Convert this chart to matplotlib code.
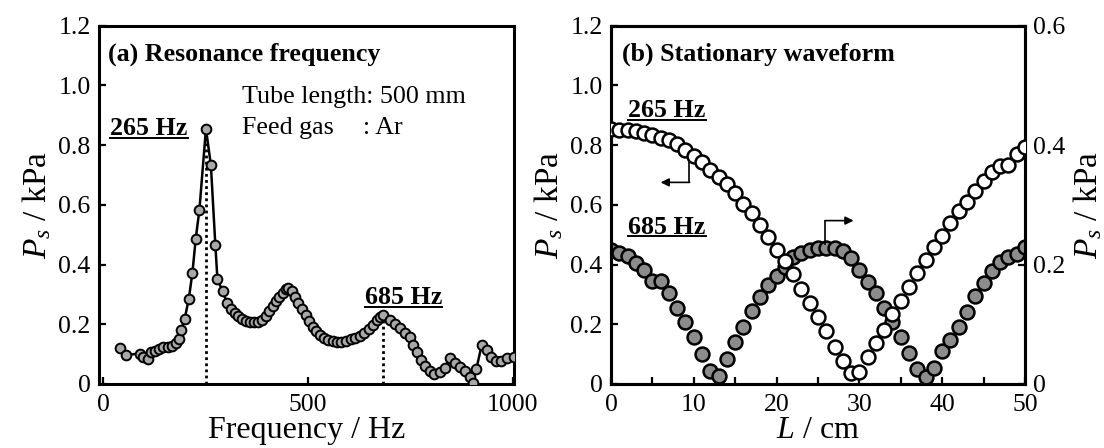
import matplotlib
matplotlib.use("Agg")
import matplotlib.pyplot as plt
import numpy as np

plt.rcParams['font.family'] = ['Liberation Serif', 'DejaVu Serif']
plt.rcParams['mathtext.fontset'] = 'custom'
plt.rcParams['mathtext.rm'] = 'Liberation Serif'
plt.rcParams['mathtext.it'] = 'Liberation Serif:italic'
plt.rcParams['mathtext.bf'] = 'Liberation Serif:bold'

# ---------------- Panel (a): resonance frequency ----------------
freq_hz = [40, 56, 89, 97, 109, 116, 127, 137, 147, 158, 167, 178, 185, 190, 199,
           209, 218, 226, 235, 251, 263, 274, 279, 292, 302, 313, 321, 330, 338,
           348, 358, 368, 378, 388, 398, 406, 414, 422, 430, 438, 446, 452, 460,
           468, 476, 485, 494, 503, 512, 520, 530, 540, 550, 560, 570, 580, 592,
           604, 616, 628, 638, 648, 658, 668, 677, 684, 700, 712, 724, 737, 749,
           757, 765, 775, 785, 797, 808, 822, 834, 846, 859, 871, 883, 895, 902,
           911, 924, 936, 948, 960, 972, 985, 1002]
ps_freq = [0.119, 0.097, 0.102, 0.089, 0.082, 0.106, 0.111, 0.118, 0.123, 0.125,
           0.128, 0.136, 0.150, 0.180, 0.218, 0.284, 0.373, 0.486, 0.583, 0.855,
           0.733, 0.464, 0.351, 0.310, 0.272, 0.252, 0.239, 0.227, 0.219, 0.210,
           0.207, 0.206, 0.207, 0.214, 0.229, 0.245, 0.262, 0.278, 0.292, 0.306,
           0.318, 0.322, 0.310, 0.292, 0.272, 0.252, 0.230, 0.210, 0.192, 0.178,
           0.165, 0.155, 0.148, 0.143, 0.140, 0.142, 0.145, 0.149, 0.153, 0.160,
           0.170, 0.183, 0.198, 0.213, 0.225, 0.230, 0.214, 0.200, 0.186, 0.172,
           0.158, 0.130, 0.108, 0.080, 0.060, 0.045, 0.035, 0.040, 0.055, 0.088,
           0.070, 0.058, 0.043, 0.024, 0.002, 0.050, 0.130, 0.113, 0.091, 0.078,
           0.077, 0.086, 0.091]
peak_freqs = [251, 684]
peak_vals = [0.855, 0.230]

# ---------------- Panel (b): stationary waveform ----------------
pos_cm = list(range(0, 51))
ps_265 = [0.854, 0.852, 0.850, 0.846, 0.841, 0.835, 0.824, 0.816, 0.802, 0.785,
          0.763, 0.743, 0.718, 0.693, 0.668, 0.638, 0.604, 0.571, 0.531, 0.493,
          0.448, 0.411, 0.367, 0.319, 0.272, 0.225, 0.177, 0.124, 0.076, 0.037,
          0.040, 0.091, 0.136, 0.182, 0.235, 0.279, 0.326, 0.371, 0.415, 0.458,
          0.497, 0.538, 0.578, 0.608, 0.645, 0.681, 0.709, 0.731, 0.733, 0.770,
          0.793]
ps_685 = [0.224, 0.220, 0.214, 0.203, 0.190, 0.172, 0.172, 0.152, 0.127, 0.103,
          0.078, 0.051, 0.022, 0.014, 0.042, 0.070, 0.096, 0.122, 0.145, 0.165,
          0.180, 0.196, 0.212, 0.220, 0.225, 0.228, 0.228, 0.227, 0.222, 0.211,
          0.190, 0.170, 0.152, 0.128, 0.104, 0.078, 0.052, 0.025, 0.012, 0.026,
          0.056, 0.073, 0.095, 0.120, 0.148, 0.169, 0.189, 0.204, 0.213, 0.218,
          0.230]

left_yticks = [0, 0.2, 0.4, 0.6, 0.8, 1.0, 1.2]
left_yticklabels = ['0', '0.2', '0.4', '0.6', '0.8', '1.0', '1.2']
right_yticks = [0, 0.2, 0.4, 0.6]
right_yticklabels = ['0', '0.2', '0.4', '0.6']
freq_ticks = [0, 500, 1000]
pos_ticks = [0, 10, 20, 30, 40, 50]

TICK_FS = 18.5
LABEL_FS = 23
TEXT_FS = 18.7

fig = plt.figure(figsize=(11.04, 4.48), dpi=100)
axa = fig.add_axes([0.0897, 0.1429, 0.3759, 0.800])
axb = fig.add_axes([0.5534, 0.1429, 0.3750, 0.800])
axb2 = axb.twinx()

def style(ax):
    for s in ax.spines.values():
        s.set_linewidth(2.2)
    ax.tick_params(direction='in', length=5, width=1.6, labelsize=TICK_FS, pad=6)

# ---- panel a ----
style(axa)
axa.plot(freq_hz, ps_freq, '-o', color='black', lw=1.8, ms=7,
         mfc='#a8a8a8', mec='black', mew=1.4, zorder=3)
for f, v in zip(peak_freqs, peak_vals):
    axa.plot([f, f], [0, v], ls=(0, (1, 1.2)), color='black', lw=2.0, zorder=2)
axa.set_xlim(-10, 1003)
axa.set_ylim(0, 1.2)
axa.set_xticks(freq_ticks)
axa.set_yticks(left_yticks)
axa.set_yticklabels(left_yticklabels)
axa.tick_params(axis='x', pad=7)
axa.set_xlabel('Frequency / Hz', fontsize=LABEL_FS, labelpad=0)
axa.set_ylabel(r'$P_s$ / kPa', fontsize=LABEL_FS + 1, labelpad=4)
axa.text(0.022, 0.921, '(a) Resonance frequency', transform=axa.transAxes,
         fontsize=TEXT_FS, fontweight='bold', va='center', ha='left')
axa.text(0.345, 0.80, 'Tube length: 500 mm', transform=axa.transAxes,
         fontsize=TEXT_FS, va='center', ha='left')
axa.text(0.345, 0.713, 'Feed gas', transform=axa.transAxes,
         fontsize=TEXT_FS, va='center', ha='left')
axa.text(0.635, 0.713, ': Ar', transform=axa.transAxes,
         fontsize=TEXT_FS, va='center', ha='left')
t265a = axa.text(0.027, 0.712, '265 Hz', transform=axa.transAxes,
                 fontsize=TEXT_FS, fontweight='bold', va='center', ha='left')
t685a = axa.text(0.64, 0.242, '685 Hz', transform=axa.transAxes,
                 fontsize=TEXT_FS, fontweight='bold', va='center', ha='left')

# ---- panel b ----
style(axb)
style(axb2)
axb2.plot(pos_cm, ps_685, 'o', ls='none', ms=10, mfc='#8c8c8c', mec='black',
          mew=1.8, zorder=3)
axb.plot(pos_cm, ps_265, 'o', ls='none', ms=10, mfc='white', mec='black',
         mew=1.8, zorder=4)
axb.set_zorder(axb2.get_zorder() + 1)
axb.patch.set_visible(False)
axb.set_xlim(0, 50)
axb.set_ylim(0, 1.2)
axb2.set_ylim(0, 0.6)
axb.set_xticks(pos_ticks)
axb.set_xticks(list(range(5, 50, 10)), minor=True)
axb.tick_params(axis='x', which='minor', direction='in', length=5, width=1.6)
axb.tick_params(axis='x', pad=7)
axb.set_yticks(left_yticks)
axb.set_yticklabels(left_yticklabels)
axb2.set_yticks(right_yticks)
axb2.set_yticklabels(right_yticklabels)
axb.set_xlabel(r'$L$ / cm', fontsize=LABEL_FS, labelpad=0)
axb.set_ylabel(r'$P_s$ / kPa', fontsize=LABEL_FS + 1, labelpad=4)
axb2.set_ylabel(r'$P_s$ / kPa', fontsize=LABEL_FS + 1, labelpad=4)
axb.text(0.026, 0.921, '(b) Stationary waveform', transform=axb.transAxes,
         fontsize=TEXT_FS, fontweight='bold', va='center', ha='left')
t265b = axb.text(0.042, 0.763, '265 Hz', transform=axb.transAxes,
                 fontsize=TEXT_FS, fontweight='bold', va='center', ha='left')
t685b = axb.text(0.042, 0.438, '685 Hz', transform=axb.transAxes,
                 fontsize=TEXT_FS, fontweight='bold', va='center', ha='left')

# arrows indicating the axis for each series
axb.plot([9.45, 9.45], [0.748, 0.675], color='black', lw=1.2)
axb.annotate('', xy=(6.0, 0.675), xytext=(9.5, 0.675),
             arrowprops=dict(arrowstyle='-|>', color='black', lw=1.2,
                             mutation_scale=12, shrinkA=0, shrinkB=0))
axb.plot([25.9, 25.9], [0.469, 0.547], color='black', lw=1.2)
axb.annotate('', xy=(29.3, 0.547), xytext=(25.85, 0.547),
             arrowprops=dict(arrowstyle='-|>', color='black', lw=1.2,
                             mutation_scale=12, shrinkA=0, shrinkB=0))

# underlines for the bold frequency labels
fig.canvas.draw()
renderer = fig.canvas.get_renderer()
for t, ax in [(t265a, axa), (t685a, axa), (t265b, axb), (t685b, axb)]:
    bb = t.get_window_extent(renderer=renderer)
    inv = ax.transAxes.inverted()
    (x0, y0), (x1, y1) = inv.transform([(bb.x0, bb.y0), (bb.x1, bb.y1)])
    yy = y0 + 0.006
    ax.plot([x0, x1], [yy, yy], transform=ax.transAxes, color='black',
            lw=1.4, clip_on=False)

fig.savefig('out.png', dpi=100)
